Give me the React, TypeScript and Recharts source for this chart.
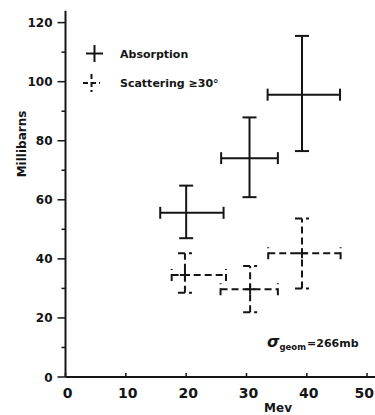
import React from "react";
import { ScatterChart, Scatter, XAxis, YAxis, ErrorBar } from "recharts";

const energyAbs = [20, 30.5, 39.2];
const valueAbs = [55.6, 74.1, 95.6];
const energyLowAbs = [15.7, 25.8, 33.5];
const energyHighAbs = [26.2, 35.2, 45.5];
const valueLowAbs = [47.0, 60.9, 76.5];
const valueHighAbs = [64.8, 87.9, 115.5];

const energyScat = [19.8, 30.6, 39.2];
const valueScat = [34.5, 29.7, 41.9];
const energyLowScat = [17.6, 25.7, 33.6];
const energyHighScat = [26.6, 35.2, 45.6];
const valueLowScat = [28.5, 21.9, 30.0];
const valueHighScat = [41.9, 37.6, 53.7];

const xTicks = [0, 10, 20, 30, 40, 50];
const yTicks = [0, 10, 20, 30, 40, 50, 60, 70, 80, 90, 100, 110, 120];

const build = (
  xs: number[], ys: number[], xl: number[], xh: number[], yl: number[], yh: number[]
) =>
  xs.map((x, i) => ({
    x,
    y: ys[i],
    ex: [x - xl[i], xh[i] - x],
    ey: [ys[i] - yl[i], yh[i] - ys[i]],
  }));

const absData = build(energyAbs, valueAbs, energyLowAbs, energyHighAbs, valueLowAbs, valueHighAbs);
const scatData = build(energyScat, valueScat, energyLowScat, energyHighScat, valueLowScat, valueHighScat);

const INK = "#151515";
const FONT = "'DejaVu Sans', sans-serif";

const YTick = (props: any) => {
  const { x, y, payload } = props;
  const major = payload.value % 20 === 0;
  return (
    <g>
      <line x1={x - (major ? 8 : 4)} x2={x} y1={y} y2={y} stroke={INK} strokeWidth={1.5} />
      {major && (
        <text x={x - 13} y={y + 4.5} textAnchor="end" fontFamily={FONT} fontWeight="bold" fontSize={12} fill={INK}>
          {payload.value}
        </text>
      )}
    </g>
  );
};

const XTick = (props: any) => {
  const { x, y, payload } = props;
  const last = payload.value === 50;
  return (
    <g>
      <line x1={x} x2={x} y1={y - 4} y2={y} stroke={INK} strokeWidth={1.5} />
      <text
        x={last ? 374 : x + 2}
        y={y + 21}
        textAnchor={last ? "end" : "middle"}
        fontFamily={FONT}
        fontWeight="bold"
        fontSize={14}
        fill={INK}
      >
        {payload.value}
      </text>
    </g>
  );
};

const NoShape = () => <g />;

const SmallPlus = (props: any) => {
  const { cx, cy } = props;
  return (
    <g>
      <line x1={cx - 5} x2={cx + 5} y1={cy} y2={cy} stroke={INK} strokeWidth={2} />
      <line x1={cx} x2={cx} y1={cy - 5} y2={cy + 5} stroke={INK} strokeWidth={2} />
    </g>
  );
};

export default function App() {
  return (
    <div style={{ position: "absolute", left: 0, top: 0, width: 375, height: 415, background: "#fff" }}>
      <ScatterChart width={375} height={415} margin={{ top: 10.8, right: 0, bottom: 0, left: 0 }}>
        <XAxis
          type="number"
          dataKey="x"
          domain={[0, 51.3]}
          ticks={xTicks}
          height={38}
          tickSize={0}
          tickMargin={0}
          tickLine={false}
          tick={<XTick />}
          axisLine={{ stroke: INK, strokeWidth: 2 }}
          allowDataOverflow
        />
        <YAxis
          type="number"
          dataKey="y"
          domain={[0, 124]}
          ticks={yTicks}
          width={65.5}
          tickSize={0}
          tickMargin={0}
          tickLine={false}
          tick={<YTick />}
          axisLine={{ stroke: INK, strokeWidth: 2 }}
          interval={0}
          allowDataOverflow
        />
        <Scatter data={absData} shape={<NoShape />} isAnimationActive={false}>
          <ErrorBar dataKey="ex" direction="x" width={6} stroke={INK} strokeWidth={2} isAnimationActive={false} />
          <ErrorBar dataKey="ey" direction="y" width={7} stroke={INK} strokeWidth={2} isAnimationActive={false} />
        </Scatter>
        <Scatter data={scatData} shape={<SmallPlus />} isAnimationActive={false}>
          <ErrorBar dataKey="ex" direction="x" width={6} stroke={INK} strokeWidth={2} strokeDasharray="7 4" isAnimationActive={false} />
          <ErrorBar dataKey="ey" direction="y" width={7} stroke={INK} strokeWidth={2} strokeDasharray="7 4" isAnimationActive={false} />
        </Scatter>
      </ScatterChart>
      <svg width={375} height={415} style={{ position: "absolute", left: 0, top: 0, pointerEvents: "none" }}>
        <line x1={86} x2={103} y1={53.5} y2={53.5} stroke={INK} strokeWidth={2} />
        <line x1={94.5} x2={94.5} y1={45} y2={62} stroke={INK} strokeWidth={2} />
        <text x={120} y={57.5} fontFamily={FONT} fontWeight="bold" fontSize={11} fill={INK}>Absorption</text>
        <line x1={83} x2={100} y1={83} y2={83} stroke={INK} strokeWidth={2} strokeDasharray="5 3" />
        <line x1={91.5} x2={91.5} y1={74} y2={92} stroke={INK} strokeWidth={2} strokeDasharray="5 3" />
        <text x={120} y={87} fontFamily={FONT} fontWeight="bold" fontSize={11} fill={INK}>Scattering ≥30°</text>
        <text x={0} y={0} transform="translate(26,144) rotate(-90)" textAnchor="middle" fontFamily={FONT} fontWeight="bold" fontSize={12} fill={INK}>Millibarns</text>
        <text x={278} y={412} textAnchor="middle" fontFamily={FONT} fontWeight="bold" fontSize={12} fill={INK}>Mev</text>
        <text x={267} y={347} fontFamily={FONT} fontWeight="bold" fill={INK}>
          <tspan fontSize={16} fontStyle="italic">σ</tspan>
          <tspan fontSize={8.5} dy={3}>geom</tspan>
          <tspan fontSize={11} dy={-3} dx={1}>=266mb</tspan>
        </text>
      </svg>
    </div>
  );
}
